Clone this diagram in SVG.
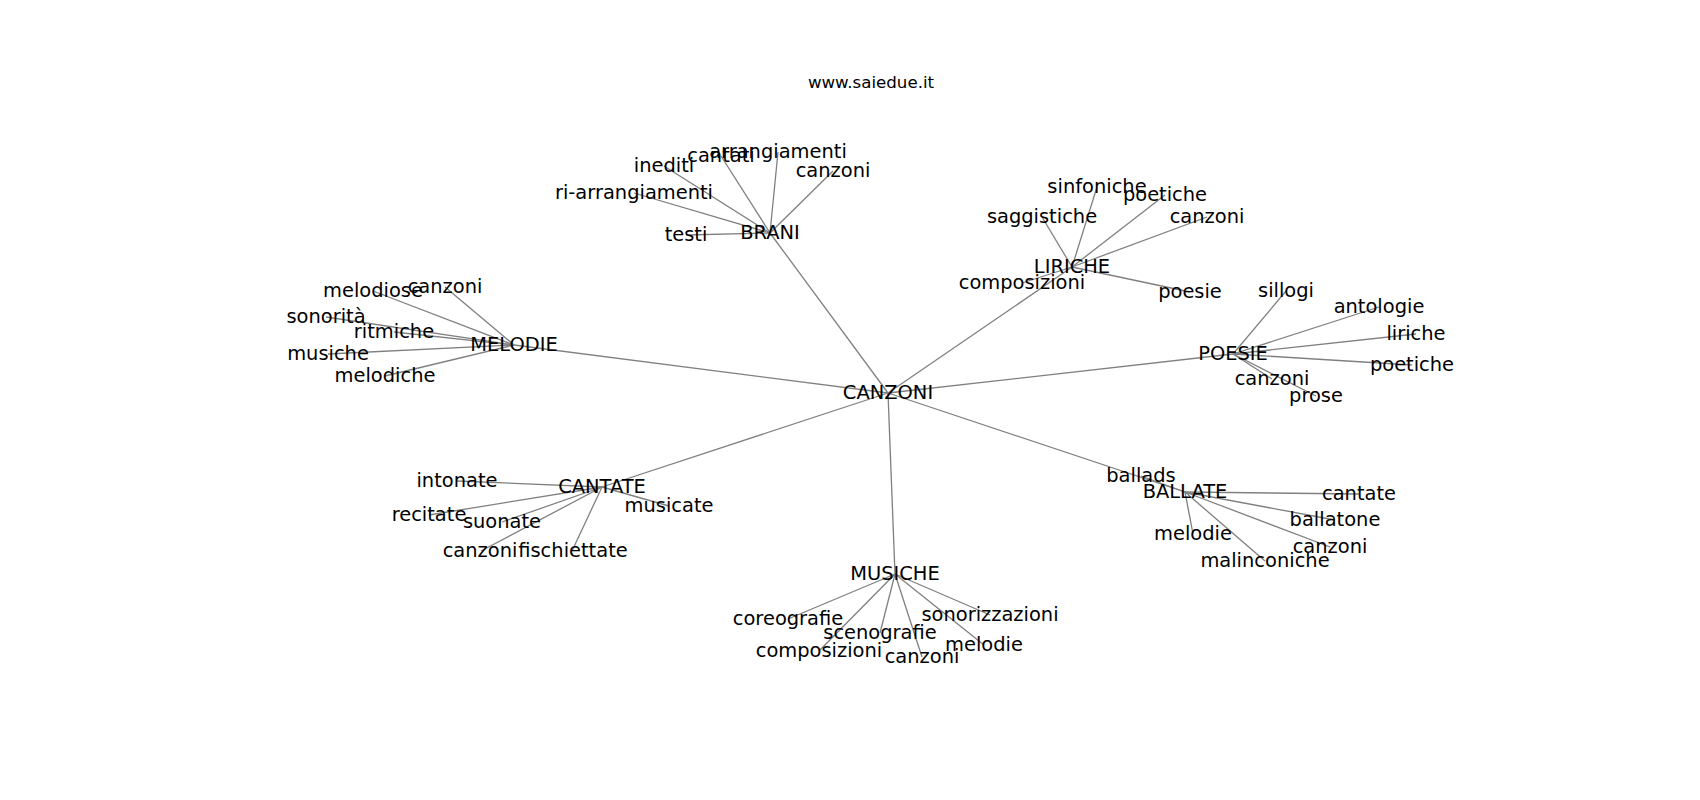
<svg xmlns="http://www.w3.org/2000/svg" width="1700" height="800" viewBox="0 0 1700 800">
<style>
.e{stroke:#808080;stroke-width:1.3;fill:none}
.n text{font-family:"DejaVu Sans",sans-serif;font-size:19.44px;fill:#000;text-anchor:middle}
.t{font-family:"DejaVu Sans",sans-serif;font-size:16.67px;fill:#000;text-anchor:middle}
</style>
<rect width="1700" height="800" fill="#fff"/>
<text class="t" x="871" y="88">www.saiedue.it</text>
<g id="connectors" class="e">
<line x1="888" y1="393" x2="770" y2="233"/>
<line x1="888" y1="393" x2="1072" y2="267"/>
<line x1="888" y1="393" x2="514" y2="345"/>
<line x1="888" y1="393" x2="1233" y2="354"/>
<line x1="888" y1="393" x2="602" y2="487"/>
<line x1="888" y1="393" x2="1185" y2="492"/>
<line x1="888" y1="393" x2="895" y2="574"/>
<line x1="770" y1="233" x2="664" y2="166"/>
<line x1="770" y1="233" x2="721" y2="156"/>
<line x1="770" y1="233" x2="778" y2="152"/>
<line x1="770" y1="233" x2="833" y2="171"/>
<line x1="770" y1="233" x2="634" y2="193"/>
<line x1="770" y1="233" x2="686" y2="235"/>
<line x1="1072" y1="267" x2="1097" y2="187"/>
<line x1="1072" y1="267" x2="1165" y2="195"/>
<line x1="1072" y1="267" x2="1042" y2="217"/>
<line x1="1072" y1="267" x2="1207" y2="217"/>
<line x1="1072" y1="267" x2="1022" y2="283"/>
<line x1="1072" y1="267" x2="1190" y2="292"/>
<line x1="514" y1="345" x2="373" y2="291"/>
<line x1="514" y1="345" x2="445" y2="287"/>
<line x1="514" y1="345" x2="326" y2="317"/>
<line x1="514" y1="345" x2="394" y2="332"/>
<line x1="514" y1="345" x2="328" y2="354"/>
<line x1="514" y1="345" x2="385" y2="376"/>
<line x1="1233" y1="354" x2="1286" y2="291"/>
<line x1="1233" y1="354" x2="1379" y2="307"/>
<line x1="1233" y1="354" x2="1416" y2="334"/>
<line x1="1233" y1="354" x2="1412" y2="365"/>
<line x1="1233" y1="354" x2="1272" y2="379"/>
<line x1="1233" y1="354" x2="1316" y2="396"/>
<line x1="602" y1="487" x2="457" y2="481"/>
<line x1="602" y1="487" x2="429" y2="515"/>
<line x1="602" y1="487" x2="502" y2="522"/>
<line x1="602" y1="487" x2="481" y2="551"/>
<line x1="602" y1="487" x2="572" y2="551"/>
<line x1="602" y1="487" x2="669" y2="506"/>
<line x1="1185" y1="492" x2="1141" y2="476"/>
<line x1="1185" y1="492" x2="1359" y2="494"/>
<line x1="1185" y1="492" x2="1335" y2="520"/>
<line x1="1185" y1="492" x2="1193" y2="534"/>
<line x1="1185" y1="492" x2="1330" y2="547"/>
<line x1="1185" y1="492" x2="1265" y2="561"/>
<line x1="895" y1="574" x2="788" y2="619"/>
<line x1="895" y1="574" x2="990" y2="615"/>
<line x1="895" y1="574" x2="880" y2="633"/>
<line x1="895" y1="574" x2="819" y2="651"/>
<line x1="895" y1="574" x2="984" y2="645"/>
<line x1="895" y1="574" x2="922" y2="657"/>
</g>
<g class="n">
<g id="n-canzoni"><text x="888" y="399.4">CANZONI</text></g>
<g id="n-brani"><text x="770" y="239.4">BRANI</text></g>
<g id="n-liriche"><text x="1072" y="273.4">LIRICHE</text></g>
<g id="n-melodie"><text x="514" y="351.4">MELODIE</text></g>
<g id="n-poesie"><text x="1233" y="360.4">POESIE</text></g>
<g id="n-cantate"><text x="602" y="493.4">CANTATE</text></g>
<g id="n-ballate"><text x="1185" y="498.4">BALLATE</text></g>
<g id="n-musiche"><text x="895" y="580.4">MUSICHE</text></g>
<g id="n-brani-inediti"><text x="664" y="172.4">inediti</text></g>
<g id="n-brani-cantati"><text x="721" y="162.4">cantati</text></g>
<g id="n-brani-arrangiamenti"><text x="778" y="158.4">arrangiamenti</text></g>
<g id="n-brani-canzoni"><text x="833" y="177.4">canzoni</text></g>
<g id="n-brani-ri-arrangiamenti"><text x="634" y="199.4">ri-arrangiamenti</text></g>
<g id="n-brani-testi"><text x="686" y="241.4">testi</text></g>
<g id="n-liriche-sinfoniche"><text x="1097" y="193.4">sinfoniche</text></g>
<g id="n-liriche-poetiche"><text x="1165" y="201.4">poetiche</text></g>
<g id="n-liriche-saggistiche"><text x="1042" y="223.4">saggistiche</text></g>
<g id="n-liriche-canzoni"><text x="1207" y="223.4">canzoni</text></g>
<g id="n-liriche-composizioni"><text x="1022" y="289.4">composizioni</text></g>
<g id="n-liriche-poesie"><text x="1190" y="298.4">poesie</text></g>
<g id="n-melodie-melodiose"><text x="373" y="297.4">melodiose</text></g>
<g id="n-melodie-canzoni"><text x="445" y="293.4">canzoni</text></g>
<g id="n-melodie-sonorita"><text x="326" y="323.4">sonorità</text></g>
<g id="n-melodie-ritmiche"><text x="394" y="338.4">ritmiche</text></g>
<g id="n-melodie-musiche"><text x="328" y="360.4">musiche</text></g>
<g id="n-melodie-melodiche"><text x="385" y="382.4">melodiche</text></g>
<g id="n-poesie-sillogi"><text x="1286" y="297.4">sillogi</text></g>
<g id="n-poesie-antologie"><text x="1379" y="313.4">antologie</text></g>
<g id="n-poesie-liriche"><text x="1416" y="340.4">liriche</text></g>
<g id="n-poesie-poetiche"><text x="1412" y="371.4">poetiche</text></g>
<g id="n-poesie-canzoni"><text x="1272" y="385.4">canzoni</text></g>
<g id="n-poesie-prose"><text x="1316" y="402.4">prose</text></g>
<g id="n-cantate-intonate"><text x="457" y="487.4">intonate</text></g>
<g id="n-cantate-recitate"><text x="429" y="521.4">recitate</text></g>
<g id="n-cantate-suonate"><text x="502" y="528.4">suonate</text></g>
<g id="n-cantate-canzoni"><text x="480" y="557.4">canzoni</text></g>
<g id="n-cantate-fischiettate"><text x="573" y="557.4">fischiettate</text></g>
<g id="n-cantate-musicate"><text x="669" y="512.4">musicate</text></g>
<g id="n-ballate-ballads"><text x="1141" y="482.4">ballads</text></g>
<g id="n-ballate-cantate"><text x="1359" y="500.4">cantate</text></g>
<g id="n-ballate-ballatone"><text x="1335" y="526.4">ballatone</text></g>
<g id="n-ballate-melodie"><text x="1193" y="540.4">melodie</text></g>
<g id="n-ballate-canzoni"><text x="1330" y="553.4">canzoni</text></g>
<g id="n-ballate-malinconiche"><text x="1265" y="567.4">malinconiche</text></g>
<g id="n-musiche-coreografie"><text x="788" y="625.4">coreografie</text></g>
<g id="n-musiche-sonorizzazioni"><text x="990" y="621.4">sonorizzazioni</text></g>
<g id="n-musiche-scenografie"><text x="880" y="639.4">scenografie</text></g>
<g id="n-musiche-composizioni"><text x="819" y="657.4">composizioni</text></g>
<g id="n-musiche-melodie"><text x="984" y="651.4">melodie</text></g>
<g id="n-musiche-canzoni"><text x="922" y="663.4">canzoni</text></g>
</g>
</svg>
